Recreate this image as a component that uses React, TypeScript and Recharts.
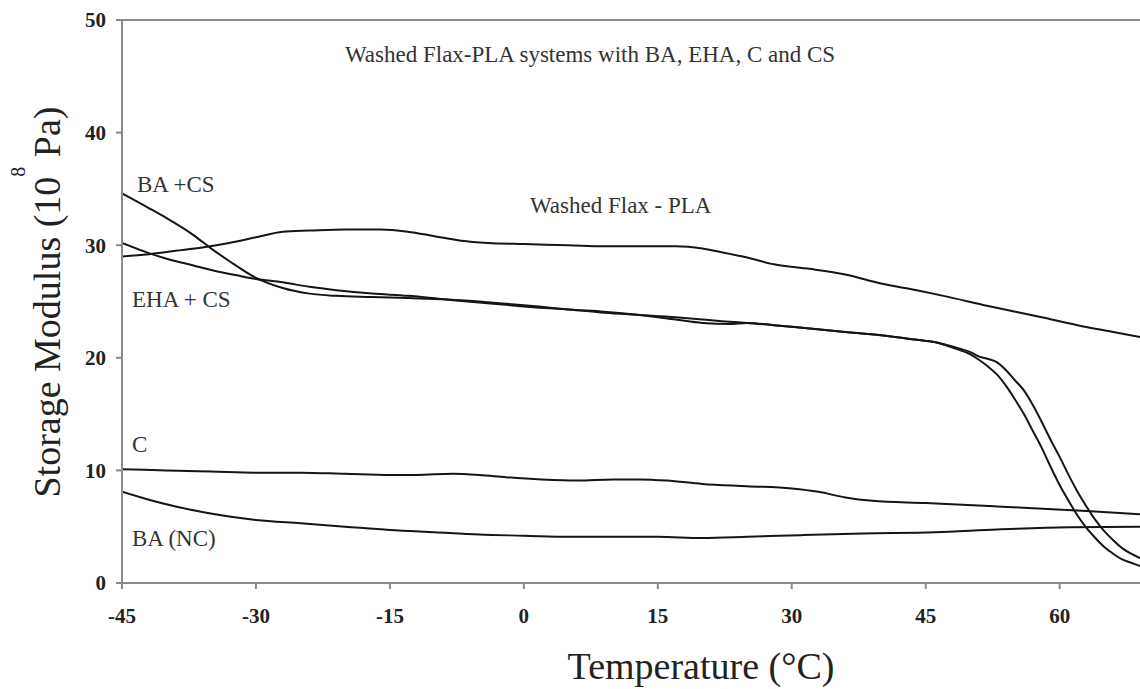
import React from "react";
import {CartesianGrid, Customized, Line, LineChart, ReferenceLine, XAxis, YAxis} from "recharts";

// Washed Flax - PLA (no coupling agent)
const plaTemp = [-45, -42, -39, -36, -33, -30, -27, -24, -20, -16, -13, -10, -7, -4, 0, 5, 9, 13, 17, 20, 22, 25, 28, 32, 36, 40, 44, 47, 52, 58, 62, 66, 69];
const plaModulus = [29.0, 29.2, 29.5, 29.8, 30.2, 30.7, 31.2, 31.3, 31.4, 31.4, 31.2, 30.8, 30.4, 30.2, 30.1, 30.0, 29.9, 29.9, 29.9, 29.7, 29.4, 28.9, 28.3, 27.9, 27.4, 26.6, 26.0, 25.5, 24.6, 23.6, 22.9, 22.3, 21.85];

const baCsTemp = [-45, -42, -40, -37, -35, -33, -30, -27, -24, -21, -17, -13, -9, -5, -2, 1, 5, 9, 13, 17, 20, 23, 25, 28, 32, 36, 40, 44, 46, 48, 50, 51, 52, 53, 54, 55, 56, 57, 58, 59, 60, 61, 62, 63, 64, 65, 66, 67, 68, 69];
const baCsModulus = [34.6, 33.3, 32.4, 30.9, 29.7, 28.6, 27.1, 26.2, 25.7, 25.5, 25.4, 25.3, 25.2, 25.0, 24.8, 24.6, 24.3, 24.1, 23.8, 23.4, 23.1, 23.0, 23.1, 22.9, 22.6, 22.3, 22.0, 21.6, 21.4, 20.9, 20.3, 19.8, 19.2, 18.5, 17.5, 16.3, 15.0, 13.5, 12.0, 10.3, 8.7, 7.3, 6.0, 4.9, 4.0, 3.2, 2.6, 2.1, 1.8, 1.5];

const ehaCsTemp = [-45, -42, -40, -37, -35, -32, -30, -27, -24, -21, -17, -13, -9, -5, -2, 1, 5, 9, 13, 17, 20, 23, 25, 28, 32, 36, 40, 44, 46, 48, 50, 51, 52, 53, 54, 55, 56, 57, 58, 59, 60, 61, 62, 63, 64, 65, 66, 67, 68, 69];
const ehaCsModulus = [30.2, 29.3, 28.8, 28.2, 27.8, 27.3, 27.0, 26.7, 26.3, 26.0, 25.7, 25.5, 25.2, 24.9, 24.7, 24.5, 24.3, 24.0, 23.8, 23.6, 23.4, 23.2, 23.1, 22.9, 22.6, 22.3, 22.0, 21.6, 21.4, 21.0, 20.5, 20.1, 19.9, 19.6, 18.9, 18.0, 17.1, 15.8, 14.3, 12.7, 11.2, 9.6, 8.1, 6.8, 5.6, 4.6, 3.8, 3.1, 2.6, 2.2];

const cTemp = [-45, -40, -35, -30, -25, -20, -15, -12, -8, -5, -2, 2, 6, 10, 13, 16, 20, 25, 30, 33, 36, 39, 45, 53, 63, 69];
const cModulus = [10.1, 10.0, 9.9, 9.8, 9.8, 9.7, 9.6, 9.6, 9.7, 9.6, 9.4, 9.2, 9.1, 9.2, 9.2, 9.1, 8.8, 8.6, 8.4, 8.1, 7.6, 7.3, 7.1, 6.8, 6.4, 6.1];

const baNcTemp = [-45, -42, -39, -36, -33, -30, -25, -20, -15, -10, -5, 0, 5, 10, 15, 20, 25, 31, 38, 46, 53, 61, 69];
const baNcModulus = [8.1, 7.4, 6.8, 6.3, 5.9, 5.6, 5.3, 5.0, 4.7, 4.5, 4.3, 4.2, 4.1, 4.1, 4.1, 4.0, 4.1, 4.25, 4.4, 4.5, 4.75, 4.95, 5.0];

const xTicks = [-45, -30, -15, 0, 15, 30, 45, 60];
const yTicks = [0, 10, 20, 30, 40, 50];

const toPoints = (t: number[], m: number[]) => t.map((x, i) => ({t: x, m: m[i]}));

const serif = "'Liberation Serif', 'Times New Roman', serif";
const axisGray = "#8a8a8a";
const ink = "#151515";

const tickStyle = {fontFamily: serif, fontSize: 21, fontWeight: 700, fill: "#222"};

const Notes = () => (
    <g style={{fontFamily: serif}} fontSize={23} fill="#333">
        <text x={345} y={62}>Washed Flax-PLA systems with BA, EHA, C and CS</text>
        <text x={530} y={213}>Washed Flax - PLA</text>
        <text x={137} y={192}>BA +CS</text>
        <text x={132} y={307}>EHA + CS</text>
        <text x={132} y={452}>C</text>
        <text x={132} y={546}>BA (NC)</text>
        <text transform="translate(60,302) rotate(-90)" textAnchor="middle" fontSize={38} fill="#222">
            Storage Modulus (10
            <tspan dy={-35} fontSize={20}>8</tspan>
            <tspan dy={35} fontSize={38}> Pa)</tspan>
        </text>
        <text x={701} y={679} textAnchor="middle" fontSize={38} fill="#222">Temperature (°C)</text>
    </g>
);

const series = [
    {key: "pla", data: toPoints(plaTemp, plaModulus)},
    {key: "baCs", data: toPoints(baCsTemp, baCsModulus)},
    {key: "ehaCs", data: toPoints(ehaCsTemp, ehaCsModulus)},
    {key: "c", data: toPoints(cTemp, cModulus)},
    {key: "baNc", data: toPoints(baNcTemp, baNcModulus)},
];

const App: React.FC = () => {
    return (
        <div style={{position: "absolute", left: 0, top: 0, width: 1140, height: 689, background: "#fff"}}>
            <LineChart width={1140} height={689} margin={{top: 20, right: 0, bottom: 66, left: 60}}>
                <CartesianGrid stroke="none" />
                <XAxis
                    type="number"
                    dataKey="t"
                    domain={[-45, 69]}
                    ticks={xTicks}
                    allowDataOverflow
                    height={40}
                    stroke={axisGray}
                    strokeWidth={2}
                    tickSize={6}
                    tickMargin={19}
                    tick={tickStyle}
                />
                <YAxis
                    type="number"
                    dataKey="m"
                    domain={[0, 50]}
                    ticks={yTicks}
                    width={62}
                    stroke={axisGray}
                    strokeWidth={2}
                    tickSize={6}
                    tickMargin={10}
                    tick={tickStyle}
                />
                <ReferenceLine y={50} stroke={axisGray} strokeWidth={2} />
                {series.map((s) => (
                    <Line
                        key={s.key}
                        data={s.data}
                        dataKey="m"
                        type="monotone"
                        stroke={ink}
                        strokeWidth={2}
                        dot={false}
                        activeDot={false}
                        isAnimationActive={false}
                    />
                ))}
                <Customized component={Notes} />
            </LineChart>
        </div>
    );
};

export default App;
